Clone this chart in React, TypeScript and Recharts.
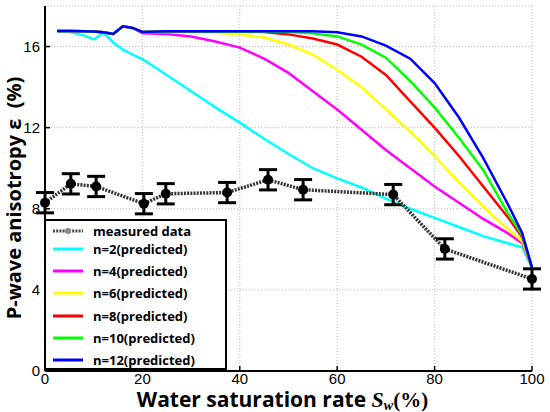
import { ComposedChart, Line, XAxis, YAxis, CartesianGrid, ErrorBar } from "recharts";

// measured points with error bars
const measuredSw = [0, 5.3, 10.5, 20.3, 24.8, 37.4, 45.8, 53, 71.5, 82.1, 100];
const measuredEps = [8.3, 9.23, 9.1, 8.25, 8.74, 8.8, 9.43, 8.94, 8.7, 6.02, 4.54];
const measuredErr = [0.5, 0.5, 0.5, 0.5, 0.5, 0.5, 0.5, 0.5, 0.5, 0.5, 0.5];

// predicted curves, all sampled at the same Sw values
const predSw = [2.5, 5, 8, 10, 12, 14, 16, 18, 20, 25, 30, 35, 40, 45, 50, 55, 60, 65, 70, 75, 80, 85, 90, 95, 98, 100];
const n2 = [16.75, 16.72, 16.55, 16.35, 16.68, 16.2, 15.85, 15.6, 15.38, 14.6, 13.8, 13.0, 12.25, 11.45, 10.7, 10.0, 9.5, 9.05, 8.5, 8.0, 7.55, 7.1, 6.65, 6.3, 6.1, 5.1];
const n4 = [16.77, 16.77, 16.75, 16.74, 16.7, 16.62, 17.0, 16.92, 16.65, 16.62, 16.5, 16.25, 15.95, 15.4, 14.7, 13.8, 12.9, 11.9, 10.9, 10.0, 9.1, 8.3, 7.5, 6.8, 6.3, 5.1];
const n6 = [16.77, 16.77, 16.75, 16.74, 16.7, 16.62, 17.0, 16.92, 16.72, 16.72, 16.7, 16.68, 16.6, 16.45, 16.1, 15.6, 14.86, 14.0, 12.9, 11.8, 10.6, 9.3, 8.1, 7.0, 6.4, 5.1];
const n8 = [16.77, 16.77, 16.75, 16.74, 16.7, 16.62, 17.0, 16.92, 16.72, 16.73, 16.73, 16.73, 16.73, 16.72, 16.6, 16.4, 16.1, 15.5, 14.6, 13.3, 12.0, 10.6, 9.1, 7.6, 6.6, 5.1];
const n10 = [16.77, 16.77, 16.75, 16.74, 16.7, 16.62, 17.0, 16.92, 16.72, 16.74, 16.74, 16.74, 16.74, 16.74, 16.72, 16.65, 16.5, 16.1, 15.45, 14.3, 13.0, 11.5, 9.9, 7.8, 6.7, 5.1];
const n12 = [16.77, 16.77, 16.75, 16.74, 16.7, 16.62, 17.0, 16.92, 16.72, 16.75, 16.75, 16.75, 16.75, 16.75, 16.75, 16.75, 16.7, 16.5, 16.05, 15.4, 14.2, 12.5, 10.5, 8.25, 6.8, 5.1];

const xTicks = [0, 20, 40, 60, 80, 100];
const yTicks = [0, 4, 8, 12, 16];

const predicted = [
  { name: "n=2(predicted)", color: "#00ffff", values: n2 },
  { name: "n=4(predicted)", color: "#ff00ff", values: n4 },
  { name: "n=6(predicted)", color: "#ffff00", values: n6 },
  { name: "n=8(predicted)", color: "#ff0000", values: n8 },
  { name: "n=10(predicted)", color: "#00ff00", values: n10 },
  { name: "n=12(predicted)", color: "#0000ff", values: n12 },
];

const measured = measuredSw.map((sw, i) => ({ sw, eps: measuredEps[i], err: measuredErr[i] }));

const FONT = "'Liberation Sans', Arial, sans-serif";
const BOLD = "'Open Sans', 'DejaVu Sans', sans-serif";

function XLabel(props: any) {
  const vb = props.viewBox;
  const cx = vb.x + vb.width / 2 - 6;
  return (
    <text x={cx} y={407} textAnchor="middle" fontFamily={BOLD} fontWeight="bold" fontSize={21} fill="#000">
      <tspan>Water saturation rate </tspan>
      <tspan fontFamily="'Liberation Serif', serif" fontStyle="italic" fontSize={22}>S</tspan>
      <tspan fontFamily="'Liberation Serif', serif" fontStyle="italic" fontSize={14} dy={3}>w</tspan>
      <tspan fontFamily="'Liberation Serif', serif" fontSize={21} dy={-3}>(%)</tspan>
    </text>
  );
}

function YLabel() {
  const cx = 13;
  const cy = 198;
  return (
    <text
      x={cx}
      y={cy}
      transform={`rotate(-90, ${cx}, ${cy})`}
      textAnchor="middle"
      dominantBaseline="central"
      fontFamily={BOLD}
      fontWeight="bold"
      fontSize={20}
      fill="#000"
    >
      {"P-wave anisotropy ε\u00a0\u00a0(%)"}
    </text>
  );
}

function LegendBox() {
  const rows = [{ name: "measured data", color: "" }, ...predicted];
  return (
    <div
      style={{
        position: "absolute",
        left: 44,
        top: 219,
        width: 183,
        height: 151,
        border: "2px solid #000",
        background: "#fff",
        boxSizing: "border-box",
        fontFamily: BOLD,
        fontWeight: "bold",
        fontSize: 13,
      }}
    >
      {rows.map((r, i) => {
        const top = i === 0 ? 10 : 28 + (i - 1) * 22.2;
        return (
          <div key={r.name} style={{ position: "absolute", left: 0, top: top - 9, height: 18, display: "flex", alignItems: "center" }}>
            {i === 0 ? (
              <svg width={40} height={18} style={{ marginLeft: 5 }}>
                <line x1={2} y1={9} x2={32} y2={9} stroke="#444" strokeWidth={3} strokeDasharray="2 1.2" />
                <circle cx={17} cy={9} r={3} fill="#888" />
              </svg>
            ) : (
              <svg width={40} height={18} style={{ marginLeft: 5 }}>
                <line x1={2} y1={9} x2={32} y2={9} stroke={r.color} strokeWidth={3} />
              </svg>
            )}
            <span style={{ marginLeft: 2 }}>{r.name}</span>
          </div>
        );
      })}
    </div>
  );
}

export default function App() {
  return (
    <div style={{ position: "absolute", left: 0, top: 0, width: 550, height: 412, background: "#fff" }}>
      <ComposedChart width={550} height={412} margin={{ top: 6, right: 18, bottom: 0, left: 0 }}>
        <CartesianGrid stroke="#b5b5b5" strokeDasharray="1 2" vertical horizontal />
        <XAxis
          dataKey="sw"
          type="number"
          domain={[0, 100]}
          ticks={xTicks}
          height={41}
          axisLine={{ stroke: "#000", strokeWidth: 2 }}
          tickLine={{ stroke: "#000", strokeWidth: 1.5 }}
          tickSize={-5}
          tickMargin={7}
          tick={{ fontFamily: FONT, fontSize: 15, fill: "#000" }}
          label={{ content: XLabel }}
          allowDuplicatedCategory={false}
        />
        <XAxis
          xAxisId="top"
          orientation="top"
          type="number"
          domain={[0, 100]}
          ticks={xTicks}
          height={0}
          tick={false}
          tickSize={-5}
          axisLine={{ stroke: "#000", strokeWidth: 2 }}
          tickLine={{ stroke: "#000", strokeWidth: 1.5 }}
        />
        <YAxis
          type="number"
          domain={[0, 18]}
          ticks={yTicks}
          width={45}
          axisLine={{ stroke: "#000", strokeWidth: 2 }}
          tickLine={{ stroke: "#000", strokeWidth: 1.5 }}
          tickSize={-5}
          tickMargin={10}
          tick={{ fontFamily: FONT, fontSize: 15, fill: "#000" }}
          label={{ content: YLabel }}
        />
        <YAxis
          yAxisId="right"
          orientation="right"
          type="number"
          domain={[0, 18]}
          ticks={yTicks}
          width={0}
          tick={false}
          tickSize={-5}
          axisLine={{ stroke: "#000", strokeWidth: 2 }}
          tickLine={{ stroke: "#000", strokeWidth: 1.5 }}
        />
        {predicted.map((p) => (
          <Line
            key={p.name}
            data={predSw.map((sw, i) => ({ sw, eps: p.values[i] }))}
            dataKey="eps"
            type="linear"
            stroke={p.color}
            strokeWidth={2.5}
            dot={false}
            isAnimationActive={false}
          />
        ))}
        <Line
          data={measured}
          dataKey="eps"
          type="linear"
          stroke="#333"
          strokeWidth={3.5}
          strokeDasharray="2 1.2"
          dot={{ r: 5, fill: "#000", stroke: "#000", strokeWidth: 0 }}
          isAnimationActive={false}
        >
          <ErrorBar dataKey="err" width={9} strokeWidth={3} stroke="#000" direction="y" />
        </Line>
      </ComposedChart>
      <LegendBox />
    </div>
  );
}
